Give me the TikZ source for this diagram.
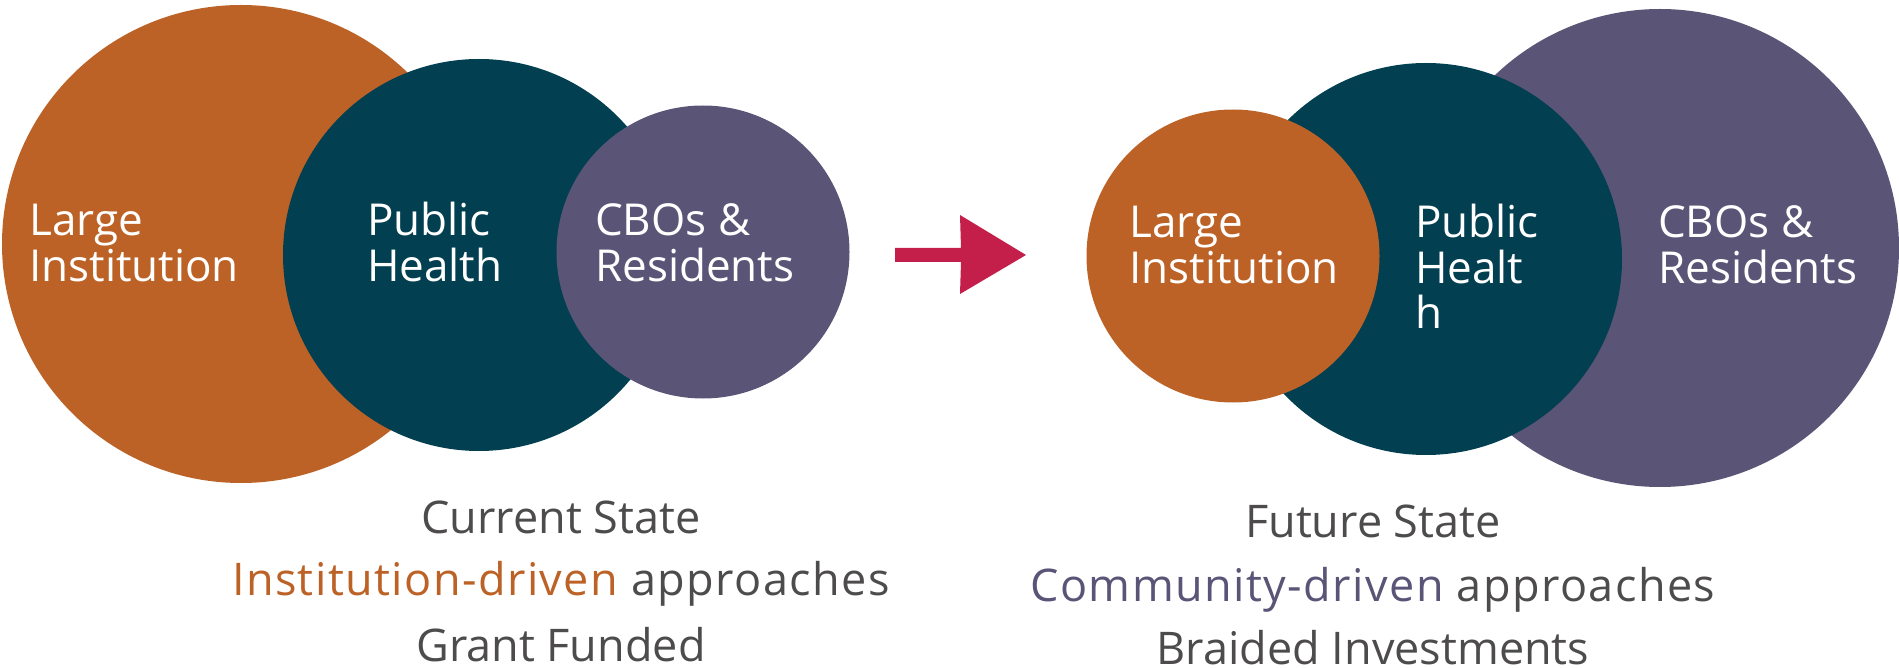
\documentclass[tikz,border=0pt]{standalone}
\usepackage{fontspec}
\setmainfont{Open Sans}
\definecolor{cOrange}{HTML}{BC6226}
\definecolor{cTeal}{HTML}{023F50}
\definecolor{cPurple}{HTML}{5A5476}
\definecolor{cArrow}{HTML}{C41F4A}
\definecolor{cGray}{HTML}{4D4B4B}
\tikzset{
  disc/.style={circle, inner sep=0pt, draw=none},
  lbl/.style={text=white, font=\fontsize{44}{45.5}\selectfont, inner sep=0pt, anchor=base west},
  caption/.style={text=cGray, font=\fontsize{45}{54}\selectfont, inner sep=0pt, anchor=base},
  widecaption/.style={caption, font=\fontsize{45}{54}\selectfont\addfontfeatures{LetterSpace=3.2}},
}
\begin{document}
\begin{tikzpicture}[x=1pt,y=-1pt]
\useasboundingbox (0,0) rectangle (1899,668);
% current state
\node[disc, fill=cOrange, minimum size=478] (liL) at (241,244) {};
\node[disc, fill=cTeal, minimum size=392] (phL) at (479,255) {};
\node[disc, fill=cPurple, minimum size=293] (cbL) at (703,252) {};
\node[lbl] (tliL1) at (29,236) {Large};
\node[lbl] (tliL2) at (29,281.5) {Institution};
\node[lbl] (tphL1) at (367,236) {Public};
\node[lbl] (tphL2) at (367,281.5) {Health};
\node[lbl] (tcbL1) at (595,236) {CBOs \&};
\node[lbl] (tcbL2) at (595,281.5) {Residents};
% future state
\node[disc, fill=cPurple, minimum size=478] (cbR) at (1660,248) {};
\node[disc, fill=cTeal, minimum size=392] (phR) at (1426,259) {};
\node[disc, fill=cOrange, minimum size=293] (liR) at (1233,256) {};
\node[lbl] (tliR1) at (1129,238) {Large};
\node[lbl] (tliR2) at (1129,283.5) {Institution};
\node[lbl] (tphR1) at (1415,238) {Public};
\node[lbl] (tphR2) at (1415,283.5) {Healt};
\node[lbl] (tphR3) at (1415,329) {h};
\node[lbl] (tcbR1) at (1658,238) {CBOs \&};
\node[lbl] (tcbR2) at (1658,283.5) {Residents};
% arrow
\coordinate (aS) at (895,255);
\coordinate (aE) at (1026,255);
\fill[cArrow] ([yshift=7]aS) -- (961,248) -- (960,215) -- (aE) -- (960,294) -- (961,262) -- ([yshift=-7]aS) -- cycle;
% captions
\node[caption] (capL1) at (561,533.5) {Current State};
\node[widecaption] (capL2) at (561,595.5) {\textcolor{cOrange}{Institution-driven} approaches};
\node[caption, text depth=0pt] (capL3) at (561,661) {Grant Funded};
\node[caption] (capR1) at (1373,537.5) {Future State};
\node[widecaption] (capR2) at (1373,601.5) {\textcolor{cPurple}{Community-driven} approaches};
\node[caption, text depth=0pt] (capR3) at (1373,664.5) {Braided Investments};
\end{tikzpicture}
\end{document}
